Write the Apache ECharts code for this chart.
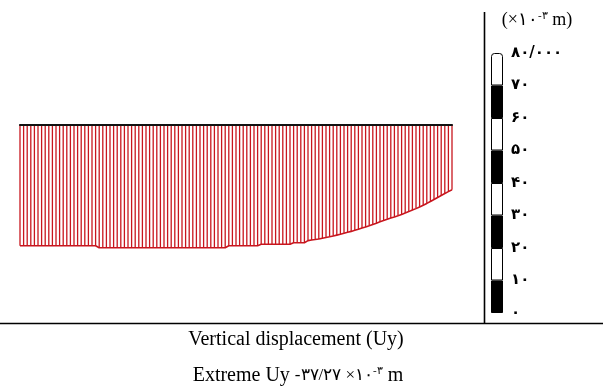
<!DOCTYPE html>
<html><head><meta charset="utf-8">
<script src="https://cdn.jsdelivr.net/npm/echarts@6/dist/echarts.min.js"></script>
<style>html,body{margin:0;padding:0;background:#fff}#c{width:603px;height:387px}</style>
</head><body><div id="c"></div>
<script>
// Vertical displacement (Uy) at each station along the member, x10^-3 m
const displacement = [
  -36.66,-36.66,-36.66,-36.66,-36.66,-36.66,-36.66,-36.66,-36.66,-36.66,-36.66,
  -36.66,-36.66,-36.66,-36.66,-36.66,-36.66,-36.66,-36.66,-36.66,-36.66,-36.66,
  -37.27,-37.27,-37.27,-37.27,-37.27,-37.27,-37.27,-37.27,-37.27,-37.27,-37.27,-37.27,
  -37.27,-37.27,-37.27,-37.27,-37.27,-37.27,-37.27,-37.27,-37.27,-37.27,-37.27,-37.27,
  -37.27,-37.27,-37.27,-37.27,-37.27,-37.27,-37.27,-37.27,-37.27,-37.27,-37.27,-37.27,
  -36.66,-36.66,-36.66,-36.66,-36.66,-36.66,-36.66,-36.66,-36.66,
  -36.24,-36.24,-36.24,-36.24,-36.24,-36.24,-36.24,-36.24,-36.24,
  -35.75,-35.75,-35.75,-35.75,
  -35.12,-34.94,-34.79,-34.63,-34.39,-34.18,-33.96,-33.72,-33.45,-33.18,
  -32.90,-32.60,-32.32,-31.99,-31.66,-31.32,-30.99,-30.62,-30.23,-29.83,
  -29.41,-29.01,-28.65,-28.28,-27.92,-27.55,-27.16,-26.73,-26.31,-25.85,
  -25.40,-24.88,-24.36,-23.82,-23.24,-22.63,-22.03,-21.42,-20.81,-20.23,-19.69
];
// colour-bar legend
const legendTicks  = [0, 10, 20, 30, 40, 50, 60, 70, 80];
const legendLabels = ['۰', '۱۰', '۲۰', '۳۰', '۴۰', '۵۰', '۶۰', '۷۰', '۸۰/۰۰۰'];
const legendColors = ['#000', '#fff', '#000', '#fff', '#000', '#fff', '#000', '#fff'];
// texts
const unitText   = '{a|(×۱۰}{s|-۳}{a| m)}';
const titleText  = 'Vertical displacement (Uy)';
const extremeText = '{a|Extreme Uy }{b|-۳۷/۲۷ ×۱۰}{s|-۳}{a| m}';

const stations = displacement.map((v, i) => [i, v]);
const RED = '#c8161e';
const SERIF = '"Liberation Serif", "DejaVu Serif", serif';

const legendSeries = legendColors.map((c, k) => ({
  type: 'bar', xAxisIndex: 1, yAxisIndex: 1, stack: 'legend', barWidth: 12,
  data: [legendTicks[k + 1] - legendTicks[k]],
  itemStyle: { color: c, borderColor: '#000', borderWidth: 1,
    borderRadius: k === legendColors.length - 1 ? [3, 3, 0, 0] : 0 },
  silent: true
}));

const chart = echarts.init(document.getElementById('c'), null, { renderer: 'canvas' });
chart.setOption({
  animation: false,
  backgroundColor: '#fff',
  grid: [
    { left: 20, top: 125, width: 432, height: 164.6 },
    { left: 491, top: 53, width: 12, height: 260 }
  ],
  xAxis: [
    { gridIndex: 0, type: 'value', min: 0, max: displacement.length - 1, z: 10,
      axisLine: { show: true, onZero: true, lineStyle: { color: '#111', width: 2.2 } },
      axisTick: { show: false }, axisLabel: { show: false }, splitLine: { show: false } },
    { gridIndex: 1, type: 'category', data: ['scale'], show: false }
  ],
  yAxis: [
    { gridIndex: 0, type: 'value', min: -50, max: 0, show: false },
    { gridIndex: 1, type: 'value', min: 0, max: 80, interval: 10, position: 'right',
      axisLine: { show: false }, axisTick: { show: false }, splitLine: { show: false },
      axisLabel: { show: true, margin: 8, color: '#000', fontSize: 15, fontWeight: 'bold',
        fontFamily: '"DejaVu Sans", sans-serif',
        formatter: v => legendLabels[legendTicks.indexOf(v)] } }
  ],
  series: [
    { type: 'bar', xAxisIndex: 0, yAxisIndex: 0, data: stations, barWidth: 1.3,
      itemStyle: { color: RED }, silent: true },
    { type: 'line', xAxisIndex: 0, yAxisIndex: 0, data: stations, symbol: 'none',
      lineStyle: { color: RED, width: 1.6 }, silent: true }
  ].concat(legendSeries),
  graphic: [
    { type: 'line', shape: { x1: 484.5, y1: 12, x2: 484.5, y2: 323 },
      style: { stroke: '#000', lineWidth: 1.6 } },
    { type: 'line', shape: { x1: 0, y1: 323.5, x2: 603, y2: 323.5 },
      style: { stroke: '#000', lineWidth: 1.6 } },
    { type: 'text', x: 537, y: 20,
      style: { text: unitText, align: 'center', verticalAlign: 'middle', fill: '#000',
        rich: { a: { fontSize: 18, fontFamily: SERIF, fill: '#000' },
                s: { fontSize: 11, fontFamily: SERIF, fill: '#000', verticalAlign: 'top' } } } },
    { type: 'text', x: 296, y: 340,
      style: { text: titleText, align: 'center', verticalAlign: 'middle', fill: '#000',
        font: '20px ' + SERIF } },
    { type: 'text', x: 298, y: 376,
      style: { text: extremeText, align: 'center', verticalAlign: 'middle', fill: '#000',
        rich: { a: { fontSize: 20, fontFamily: SERIF, fill: '#000' },
                b: { fontSize: 17, fontFamily: SERIF, fill: '#000' },
                s: { fontSize: 11, fontFamily: SERIF, fill: '#000', verticalAlign: 'top' } } } }
  ]
});
</script></body></html>
